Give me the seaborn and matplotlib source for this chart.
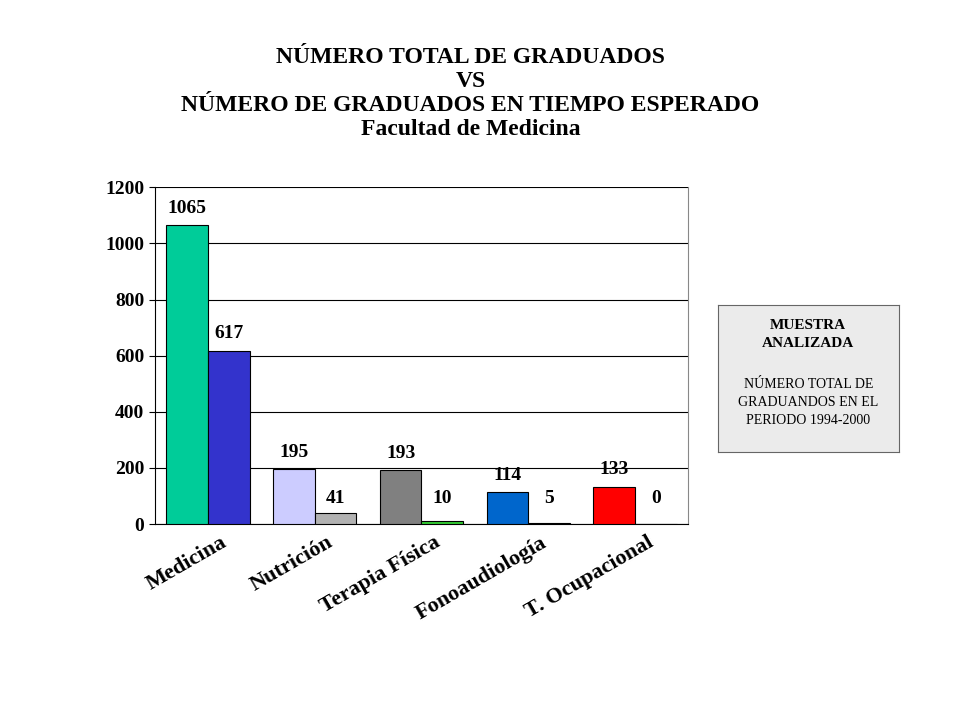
import matplotlib
matplotlib.use("Agg")
import matplotlib.pyplot as plt
import seaborn as sns
import pandas as pd

plt.rcParams["font.family"] = "Liberation Serif"

categories = ["Medicina", "Nutrición", "Terapia Física", "Fonoaudiología", "T. Ocupacional"]
total = [1065, 195, 193, 114, 133]
esperado = [617, 41, 10, 5, 0]
total_colors = ["#00CC99", "#CCCCFF", "#808080", "#0066CC", "#FF0000"]
esp_colors = ["#3333CC", "#B2B2B2", "#33CC33", "#33CCCC", "#FFFFFF"]

df = pd.DataFrame({
    "Carrera": categories * 2,
    "Valor": total + esperado,
    "Serie": ["Total"] * 5 + ["Esperado"] * 5,
})

fig = plt.figure(figsize=(9.6, 7.2), dpi=100)
ax = fig.add_axes([0.161, 0.272, 0.556, 0.468])
sns.barplot(data=df, x="Carrera", y="Valor", hue="Serie", ax=ax,
            width=0.78, edgecolor="black", linewidth=0.8, legend=False, zorder=3)

bars = ax.patches
for i, p in enumerate(bars[:5]):
    p.set_facecolor(total_colors[i])
for i, p in enumerate(bars[5:10]):
    p.set_facecolor(esp_colors[i])

for p, v in zip(bars[:10], total + esperado):
    x = p.get_x() + p.get_width() / 2
    ax.text(x, v + 30 if v > 50 else 60, str(v), ha="center", va="bottom",
            fontsize=14, fontweight="bold")

ax.set_ylim(0, 1200)
ax.set_xlim(-0.5, 4.5)
ax.set_yticks(range(0, 1201, 200))
ax.yaxis.grid(True, color="black", linewidth=0.8, zorder=0)
ax.set_axisbelow(True)
ax.spines["top"].set_visible(False)
ax.spines["right"].set_color("#888888")
ax.set_xlabel("")
ax.set_ylabel("")
ax.tick_params(axis="x", length=0, pad=6)
ax.tick_params(axis="y", length=4)
for lab in ax.get_yticklabels():
    lab.set_fontsize(14)
    lab.set_fontweight("bold")
ax.set_xticks(range(5))
ax.set_xticklabels(categories, rotation=30, ha="right", rotation_mode="anchor",
                   fontsize=16, fontweight="bold")
for lab in ax.get_xticklabels():
    lab.set_transform(lab.get_transform() + matplotlib.transforms.ScaledTranslation(0.12, 0, fig.dpi_scale_trans))

fig.text(0.49, 0.87, "NÚMERO TOTAL DE GRADUADOS\nVS\nNÚMERO DE GRADUADOS EN TIEMPO ESPERADO\nFacultad de Medicina",
         ha="center", va="center", fontsize=17, fontweight="bold", linespacing=1.2)

box = fig.add_axes([0.748, 0.372, 0.188, 0.204])
box.set_facecolor("#EBEBEB")
box.set_xticks([]); box.set_yticks([])
for s in box.spines.values():
    s.set_color("#666666")
box.text(0.5, 0.8, "MUESTRA\nANALIZADA", ha="center", va="center", fontsize=11,
         fontweight="bold", transform=box.transAxes, linespacing=1.5)
box.text(0.5, 0.34, "NÚMERO TOTAL DE\nGRADUANDOS EN EL\nPERIODO 1994-2000", ha="center",
         va="center", fontsize=10, transform=box.transAxes, linespacing=1.5)

fig.savefig("out.png", dpi=100)
